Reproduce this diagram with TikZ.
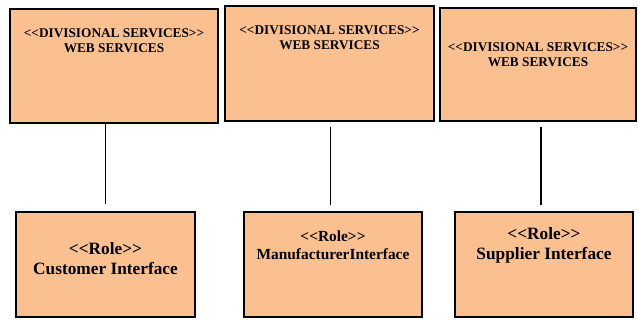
\documentclass[tikz,border=0pt]{standalone}
\usepackage{fontspec}
\setmainfont{Liberation Serif}[Ligatures=NoCommon]
\definecolor{peach}{RGB}{250,192,144}
\newcommand{\lt}{<\kern0pt<}
\newcommand{\gt}{>\kern0pt>}
\tikzset{
  x=1pt, y=1pt,
  box/.style={draw=black, line width=2pt, fill=peach, inner sep=0pt},
  boxtext/.style={anchor=north, inner sep=0pt, align=center, font=\bfseries},
  conn/.style={draw=black, line width=1.5pt}
}
\begin{document}
\begin{tikzpicture}
\useasboundingbox (0,0) rectangle (638,320);
% top boxes
\node[box, minimum width=208pt, minimum height=114pt,
  label={[boxtext, yshift=-21pt, font=\bfseries\fontsize{13.3}{15}\selectfont]north:{\lt DIVISIONAL SERVICES\gt\\WEB SERVICES}}]
  (top1) at (114,254) {};
\node[box, minimum width=209pt, minimum height=114.5pt,
  label={[boxtext, yshift=-20pt, font=\bfseries\fontsize{13.3}{15}\selectfont]north:{\lt DIVISIONAL SERVICES\gt\\WEB SERVICES}}]
  (top2) at (329.5,256.7) {};
\node[box, minimum width=196pt, minimum height=113pt,
  label={[boxtext, yshift=-36pt, font=\bfseries\fontsize{13.3}{15}\selectfont]north:{\lt DIVISIONAL SERVICES\gt\\WEB SERVICES}}]
  (top3) at (538,255.5) {};
% bottom boxes
\node[box, minimum width=179pt, minimum height=105pt,
  label={[boxtext, yshift=-31pt, font=\bfseries\fontsize{17.3}{20}\selectfont]north:{\lt Role\gt\\Customer Interface}}]
  (bot1) at (105.5,55.5) {};
\node[box, minimum width=178pt, minimum height=105pt,
  label={[boxtext, yshift=-20pt, font=\bfseries\fontsize{15.4}{18}\selectfont]north:{\lt Role\gt\\ManufacturerInterface}}]
  (bot2) at (333,55.5) {};
\node[box, minimum width=178pt, minimum height=105pt,
  label={[boxtext, yshift=-16pt, font=\bfseries\fontsize{17.3}{20}\selectfont]north:{\lt Role\gt\\Supplier Interface}}]
  (bot3) at (544,55.5) {};
% connector ends
\coordinate (e1) at ([yshift=7pt]bot1.north);
\coordinate (e2) at ([xshift=-2.3pt, yshift=6pt]bot2.north);
\coordinate (e3) at ([xshift=-3pt, yshift=6pt]bot3.north);
\draw[conn] (top1.south -| e1) -- (e1);
\draw[conn] ([yshift=-5pt]top2.south -| e2) -- (e2);
\draw[conn] ([yshift=-5pt]top3.south -| e3) -- (e3);
\end{tikzpicture}
\end{document}
